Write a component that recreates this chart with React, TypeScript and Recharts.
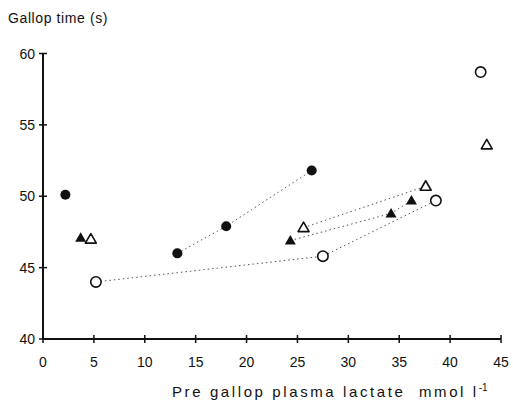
import React from 'react';
import { ScatterChart, Scatter, XAxis, YAxis } from 'recharts';

const xTicks = [0, 5, 10, 15, 20, 25, 30, 35, 40, 45];
const yTicks = [40, 45, 50, 55, 60];

const filledCircleX = [2.2, 13.2, 18.0, 26.4];
const filledCircleY = [50.1, 46.0, 47.9, 51.8];
const openCircleX = [5.2, 27.5, 38.6, 43.0];
const openCircleY = [44.0, 45.8, 49.7, 58.7];
const filledTriangleX = [3.7, 24.3, 34.2, 36.2];
const filledTriangleY = [47.1, 46.9, 48.8, 49.7];
const openTriangleX = [4.7, 25.6, 37.6, 43.6];
const openTriangleY = [47.0, 47.8, 50.7, 53.6];

const toPoints = (xs: number[], ys: number[]) => xs.map((x, i) => ({ x, y: ys[i] }));

const filledCircle = toPoints(filledCircleX, filledCircleY);
const openCircle = toPoints(openCircleX, openCircleY);
const filledTriangle = toPoints(filledTriangleX, filledTriangleY);
const openTriangle = toPoints(openTriangleX, openTriangleY);

const INK = '#111';
const FONT = '"Liberation Sans", Arial, Helvetica, sans-serif';

const FilledCircleShape = (p: any) => <circle cx={p.cx} cy={p.cy} r={5} fill={INK} />;
const OpenCircleShape = (p: any) => (
  <circle cx={p.cx} cy={p.cy} r={5.2} fill="#fff" stroke={INK} strokeWidth={1.6} />
);
const triPts = (cx: number, cy: number) =>
  `${cx},${cy - 5.5} ${cx - 5.5},${cy + 4} ${cx + 5.5},${cy + 4}`;
const FilledTriangleShape = (p: any) => <polygon points={triPts(p.cx, p.cy)} fill={INK} />;
const OpenTriangleShape = (p: any) => (
  <polygon points={triPts(p.cx, p.cy)} fill="#fff" stroke={INK} strokeWidth={1.6} strokeLinejoin="round" />
);
const NoShape = () => <g />;

const XTick = (p: any) => {
  const { x, y, payload } = p;
  return (
    <g>
      <rect x={x - 0.75} y={y - 4} width={1.5} height={8} fill={INK} />
      <text x={x} y={y + 28} textAnchor="middle" fontSize={14} fontFamily={FONT} fill={INK} stroke="none">
        {payload.value}
      </text>
    </g>
  );
};

const YTick = (p: any) => {
  const { x, y, payload } = p;
  return (
    <g>
      <rect x={x - 4} y={y - 0.75} width={8} height={1.5} fill={INK} />
      <text x={x - 8} y={y + 5} textAnchor="end" fontSize={14} fontFamily={FONT} fill={INK} stroke="none">
        {payload.value}
      </text>
    </g>
  );
};

const lineStyle = { stroke: '#555', strokeWidth: 1, strokeDasharray: '1.5 3' };

export default function App() {
  return (
    <div style={{ position: 'absolute', left: 0, top: 0, width: 513, height: 405, background: '#fff' }}>
      <ScatterChart width={513} height={405} margin={{ top: 53.5, right: 12, bottom: 0, left: 0 }}>
        <XAxis
          type="number"
          dataKey="x"
          domain={[0, 45]}
          ticks={xTicks}
          interval={0}
          height={66}
          tickSize={0}
          tickMargin={0}
          stroke={INK}
          axisLine={{ stroke: INK, strokeWidth: 2 }}
          tick={<XTick />}
        />
        <YAxis
          type="number"
          dataKey="y"
          domain={[40, 60]}
          ticks={yTicks}
          interval={0}
          width={43}
          tickSize={0}
          tickMargin={0}
          stroke={INK}
          axisLine={{ stroke: INK, strokeWidth: 2 }}
          tick={<YTick />}
        />
        <Scatter data={filledCircle.slice(1)} line={lineStyle} shape={NoShape} isAnimationActive={false} />
        <Scatter data={openCircle.slice(0, 3)} line={lineStyle} shape={NoShape} isAnimationActive={false} />
        <Scatter data={filledTriangle.slice(1)} line={lineStyle} shape={NoShape} isAnimationActive={false} />
        <Scatter data={openTriangle.slice(1, 3)} line={lineStyle} shape={NoShape} isAnimationActive={false} />
        <Scatter data={filledCircle} shape={FilledCircleShape} isAnimationActive={false} />
        <Scatter data={openCircle} shape={OpenCircleShape} isAnimationActive={false} />
        <Scatter data={filledTriangle} shape={FilledTriangleShape} isAnimationActive={false} />
        <Scatter data={openTriangle} shape={OpenTriangleShape} isAnimationActive={false} />
      </ScatterChart>
      <div
        style={{
          position: 'absolute',
          left: 8,
          top: 10,
          fontFamily: FONT,
          fontSize: 14,
          letterSpacing: 0.6,
          color: INK,
          whiteSpace: 'nowrap',
          lineHeight: '16px',
        }}
      >
        Gallop time (s)
      </div>
      <div
        style={{
          position: 'absolute',
          left: 172,
          top: 384,
          fontFamily: FONT,
          fontSize: 15,
          letterSpacing: 2.6,
          color: INK,
          whiteSpace: 'nowrap',
          lineHeight: '16px',
        }}
      >
        Pre gallop plasma lactate&nbsp; mmol l
        <sup style={{ fontSize: 10, lineHeight: 0, verticalAlign: 'super', letterSpacing: 0 }}>-1</sup>
      </div>
    </div>
  );
}
